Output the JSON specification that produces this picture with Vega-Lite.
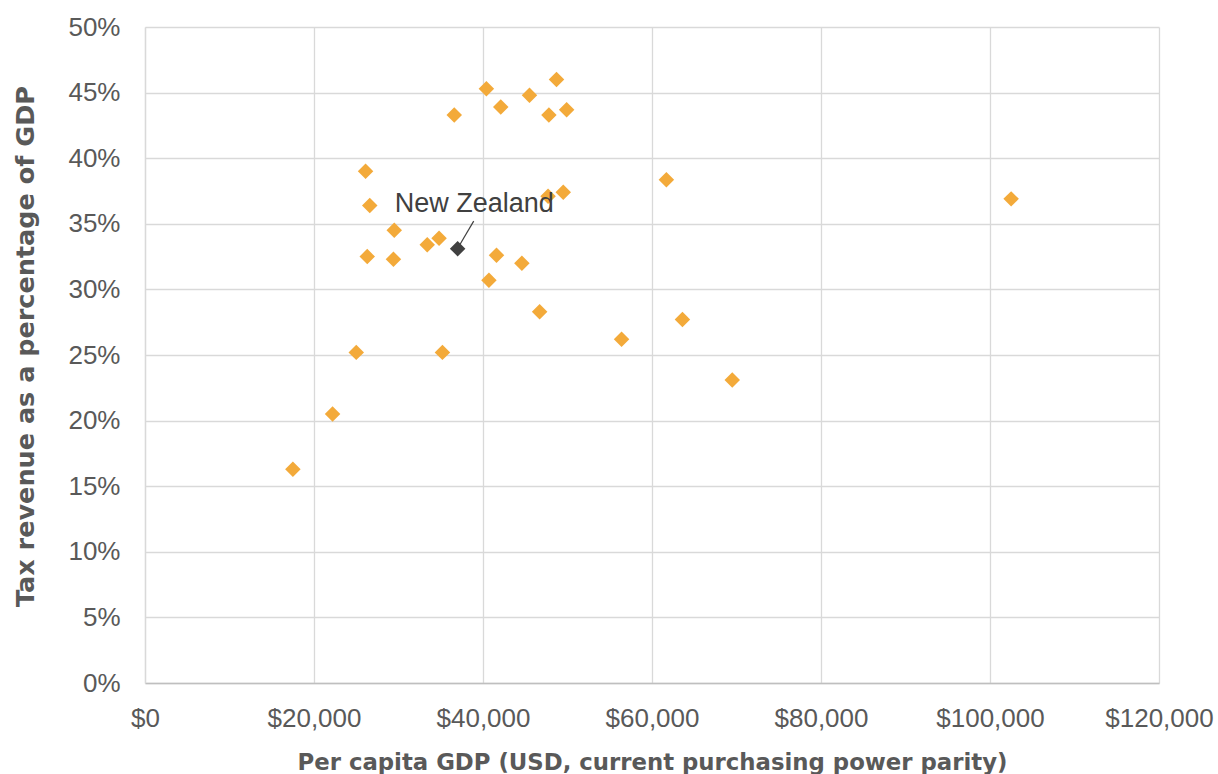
{
  "$schema": "https://vega.github.io/schema/vega-lite/v6.json",
  "width": 1014,
  "height": 656,
  "autosize": {"type": "none"},
  "padding": {"left": 145, "top": 27, "right": 59, "bottom": 91},
  "background": "white",
  "config": {
    "view": {"stroke": null},
    "font": "Liberation Sans",
    "axis": {
      "labelFont": "Liberation Sans",
      "labelFontSize": 26,
      "labelColor": "#595959",
      "titleFont": "DejaVu Sans",
      "titleFontWeight": "bold",
      "titleColor": "#595959",
      "gridColor": "#d9d9d9",
      "gridWidth": 1.3,
      "domainColor": "#d9d9d9",
      "domainWidth": 1.3,
      "ticks": false
    }
  },
  "datasets": {
    "points": [
      {"gdp": 48700, "tax": 0.460, "group": "Other"},
      {"gdp": 40400, "tax": 0.453, "group": "Other"},
      {"gdp": 45500, "tax": 0.448, "group": "Other"},
      {"gdp": 42100, "tax": 0.439, "group": "Other"},
      {"gdp": 36600, "tax": 0.433, "group": "Other"},
      {"gdp": 47800, "tax": 0.433, "group": "Other"},
      {"gdp": 49900, "tax": 0.437, "group": "Other"},
      {"gdp": 26100, "tax": 0.390, "group": "Other"},
      {"gdp": 26600, "tax": 0.364, "group": "Other"},
      {"gdp": 49500, "tax": 0.374, "group": "Other"},
      {"gdp": 47700, "tax": 0.371, "group": "Other"},
      {"gdp": 29500, "tax": 0.345, "group": "Other"},
      {"gdp": 34800, "tax": 0.339, "group": "Other"},
      {"gdp": 33400, "tax": 0.334, "group": "Other"},
      {"gdp": 26300, "tax": 0.325, "group": "Other"},
      {"gdp": 29400, "tax": 0.323, "group": "Other"},
      {"gdp": 41600, "tax": 0.326, "group": "Other"},
      {"gdp": 44600, "tax": 0.320, "group": "Other"},
      {"gdp": 40700, "tax": 0.307, "group": "Other"},
      {"gdp": 46700, "tax": 0.283, "group": "Other"},
      {"gdp": 56400, "tax": 0.262, "group": "Other"},
      {"gdp": 25000, "tax": 0.252, "group": "Other"},
      {"gdp": 35200, "tax": 0.252, "group": "Other"},
      {"gdp": 69500, "tax": 0.231, "group": "Other"},
      {"gdp": 22200, "tax": 0.205, "group": "Other"},
      {"gdp": 17500, "tax": 0.163, "group": "Other"},
      {"gdp": 61700, "tax": 0.3835, "group": "Other"},
      {"gdp": 102500, "tax": 0.369, "group": "Other"},
      {"gdp": 63600, "tax": 0.277, "group": "Other"},
      {"gdp": 37000, "tax": 0.331, "group": "New Zealand"}
    ],
    "leader": [
      {"gdp": 37200, "tax": 0.3335, "gdp2": 38900, "tax2": 0.352}
    ],
    "label": [
      {"gdp": 29550, "tax": 0.359, "text": "New Zealand"}
    ]
  },
  "encoding": {
    "x": {
      "field": "gdp",
      "type": "quantitative",
      "scale": {"domain": [0, 120000], "nice": false},
      "axis": {
        "title": "Per capita GDP (USD, current purchasing power parity)",
        "titleFontSize": 22.8,
        "format": "$,.0f",
        "values": [0, 20000, 40000, 60000, 80000, 100000, 120000],
        "labelPadding": 22,
        "titlePadding": 20,
        "domainColor": "#bfbfbf",
        "labelFlush": false
      }
    },
    "y": {
      "field": "tax",
      "type": "quantitative",
      "scale": {"domain": [0, 0.5], "nice": false},
      "axis": {
        "title": "Tax revenue as a percentage of GDP",
        "titleFontSize": 25.5,
        "titleY": 319,
        "format": ".0%",
        "values": [0, 0.05, 0.1, 0.15, 0.2, 0.25, 0.3, 0.35, 0.4, 0.45, 0.5],
        "labelPadding": 25,
        "titlePadding": 29,
        "labelFlush": false
      }
    }
  },
  "layer": [
    {
      "data": {"name": "points"},
      "mark": {"type": "point", "shape": "diamond", "filled": true, "opacity": 1, "size": 240},
      "encoding": {
        "color": {
          "field": "group",
          "type": "nominal",
          "scale": {"domain": ["Other", "New Zealand"], "range": ["#F3AA3A", "#404040"]},
          "legend": null
        }
      }
    },
    {
      "data": {"name": "leader"},
      "mark": {"type": "rule", "color": "#404040", "strokeWidth": 1.2},
      "encoding": {
        "x2": {"field": "gdp2"},
        "y2": {"field": "tax2"}
      }
    },
    {
      "data": {"name": "label"},
      "mark": {"type": "text", "align": "left", "baseline": "alphabetic", "fontSize": 27, "color": "#404040", "font": "Liberation Sans"},
      "encoding": {
        "text": {"field": "text"}
      }
    }
  ]
}
